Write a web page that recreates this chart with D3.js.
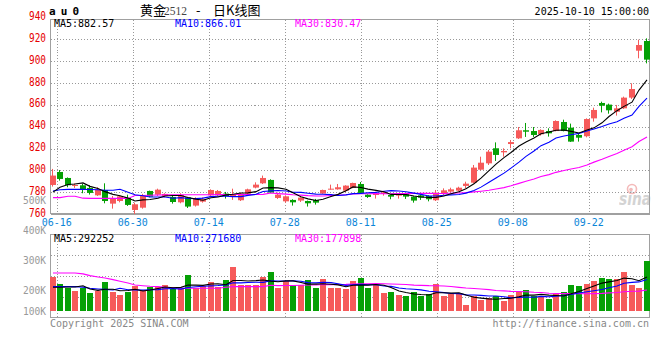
<!DOCTYPE html>
<html><head><meta charset="utf-8">
<script src="https://cdn.jsdelivr.net/npm/d3@7"></script>
<style>body{margin:0;background:#fff}svg{display:block}</style>
</head><body>
<svg id="c" width="660" height="360"></svg>
<script>
// ---------- data ----------
const dates = ["06-13","06-16","06-17","06-18","06-19","06-20","06-23","06-24","06-25","06-26","06-27",
"06-30","07-01","07-02","07-03","07-04","07-07","07-08","07-09","07-10","07-11",
"07-14","07-15","07-16","07-17","07-18","07-21","07-22","07-23","07-24","07-25",
"07-28","07-29","07-30","07-31","08-01","08-04","08-05","08-06","08-07","08-08",
"08-11","08-12","08-13","08-14","08-15","08-18","08-19","08-20","08-21","08-22",
"08-25","08-26","08-27","08-28","08-29","09-01","09-02","09-03","09-04","09-05",
"09-08","09-09","09-10","09-11","09-12","09-15","09-16","09-17","09-18","09-19",
"09-22","09-23","09-24","09-25","09-26","09-29","09-30","10-09","10-10"];
const open  = [786.6,798.5,793.0,786.0,786.3,783.9,777.1,782.0,769.5,771.9,774.7,763.7,765.8,781.1,777.7,776.5,775.6,770.7,775.3,767.7,
771.3,777.1,777.1,778.7,776.2,772.6,778.7,784.2,788.1,791.2,774.7,771.6,772.9,772.3,771.9,772.9,778.7,782.6,782.6,781.4,
783.9,787.5,777.7,777.4,778.4,777.4,776.8,778.1,775.9,777.1,776.5,772.6,778.6,780.5,781.4,785.7,788.7,800.6,806.4,820.2,
816.5,824.1,829.3,836.7,836.0,833.0,836.0,836.0,844.3,839.1,832.4,831.2,847.6,861.7,860.2,853.7,856.8,866.6,909.6,918.5];
const high  = [801.3,800.3,793.5,788.1,787.5,786.3,784.5,788.1,776.5,777.1,777.7,770.4,778.4,781.4,783.2,779.0,777.1,779.0,775.6,775.3,
775.3,782.6,782.0,780.2,783.2,779.6,783.2,789.0,795.2,791.8,779.6,777.1,773.5,775.3,772.3,773.8,782.3,786.9,787.5,786.3,
788.7,789.3,778.1,780.5,781.1,777.7,779.0,778.4,776.2,777.7,777.1,782.0,783.5,784.1,785.0,789.6,804.9,812.5,818.6,825.6,
820.2,827.8,839.7,843.4,839.7,837.6,838.5,845.8,846.4,842.8,834.2,847.6,857.4,862.9,861.1,859.9,867.5,879.7,919.7,920.9];
const low   = [785.1,790.6,784.5,783.9,779.0,777.8,776.5,769.8,764.9,770.7,767.4,760.0,764.9,775.3,776.5,775.3,769.5,769.8,765.5,766.8,
770.4,776.2,775.9,774.1,772.9,771.9,778.1,783.5,787.5,779.3,773.8,770.4,767.7,771.0,766.8,768.6,778.4,782.3,782.3,779.9,
783.6,778.7,774.7,774.1,776.8,773.5,774.1,773.8,770.4,772.9,771.6,771.9,777.4,779.6,780.5,783.5,788.1,800.0,804.9,808.6,
812.5,820.2,828.7,830.6,830.6,831.8,830.9,835.7,835.7,826.0,826.3,830.2,844.6,853.1,851.9,850.1,856.2,865.4,902.6,898.0];
const close = [795.2,792.1,786.3,786.6,782.3,779.3,782.3,771.9,774.1,776.2,768.3,768.9,777.1,775.9,782.3,778.4,771.0,777.4,766.8,774.4,
773.5,782.0,781.1,776.5,777.7,778.7,782.6,786.9,793.0,779.6,777.7,776.2,770.7,775.0,769.8,770.4,782.0,783.2,784.5,786.0,
788.4,779.3,775.6,779.0,779.9,775.9,778.7,775.9,772.3,775.0,773.5,779.6,781.7,782.6,784.1,787.8,802.5,807.0,817.1,814.1,
817.7,825.9,836.7,835.4,832.4,837.0,833.9,845.2,836.0,826.3,829.9,847.0,855.3,859.2,855.0,856.8,866.6,874.5,914.8,901.4];
const volume = [289000,229000,197000,169000,197000,152000,169000,246000,166000,134000,166000,217000,177000,203000,203000,226000,186000,195000,306000,195000,
217000,246000,203000,263000,378000,220000,220000,220000,289000,332000,195000,255000,220000,220000,263000,195000,272000,195000,195000,186000,
255000,280000,195000,220000,152000,160000,134000,126000,160000,126000,143000,229000,126000,143000,143000,49000,126000,92000,109000,126000,
83000,134000,160000,177000,126000,117000,100000,143000,160000,220000,212000,229000,255000,280000,272000,272000,332000,226000,195000,429000];
// moving-average values before enough history exists
const ma5Head  = [780.0,784.5,787.0,787.5];
const ma10Head = [781.0,782.2,782.6,782.6,782.6,782.4,782.2,781.8,781.8];
const ma30Head = [775.0,775.0,776.3,776.3,774.5,774.3,774.3,774.3,774.3,774.3,774.3,777.0,777.0,777.2,777.4,777.5,777.6,777.7,777.7,777.7,
777.7,777.7,777.8,777.8,777.8,777.8,777.8,777.9,778.0];
const vma5Head  = [203000,203000,206000,206000];
const vma10Head = [209000,209000,209000,209000,205000,195000,189000,185000,180000];
const vma30Head = [326000,326000,326000,326000,318000,303000,292000,283000,269000,255000,240000,223000,217000,212000,209000,203000,200000,195000,195000,195000,
195000,195000,195000,203000,209000,209000,209000,209000,209000];
const priceTicks = [940,920,900,880,860,840,820,800,780,760];
const dateTicks = ["06-16","06-30","07-14","07-28","08-11","08-25","09-08","09-22"];
const volTicks = [500000,400000,300000,200000,100000];
const priceMALabels = ["MA5:882.57","MA10:866.01","MA30:830.47"];
const volMALabels = ["MA5:292252","MA10:271680","MA30:177898"];
const maColors = ["#000000","#0000ff","#ff00ff"];

// ---------- drawing ----------
const svg = d3.select("#c");
const MONO = "'DejaVu Sans Mono', 'Liberation Mono', monospace";
const UP = "#f65a5a", DOWN = "#05a005", GRID = "#999", AXIS = "#a0a0a0";
const idx = d3.range(dates.length);

const x = d3.scaleBand().domain(idx).range([49.7, 649.7]).paddingInner(0.2).paddingOuter(0).align(0);
const bw = Math.round(x.bandwidth());
const left = i => Math.round(x(i));
const cx = i => left(i) + 3;
const priceY = d3.scaleLinear().domain([760, 940]).range([214, 17.5]);
const volY = d3.scaleLinear().domain([0, 655000]).range([311, 234.6]);
const volGrid = d3.scaleLinear().domain([0, 4]).range([234.5, 317.5]);
const volLabelY = d3.scaleLinear().domain([200000, 500000]).range([290.3, 200]);
const gridX = d3.scaleLinear()
  .domain([dates.indexOf(dateTicks[0]), dates.indexOf(dateTicks[dateTicks.length-1])])
  .range([57.3, 589.3]);

const P = {l:50.5, r:649.5, t:19.5, b:213.5};
const V = {t:234.5, b:317.5};

function movingAvg(vals, n, head) {
  return vals.map((v, i) => i < n - 1 ? head[i] : d3.mean(vals.slice(i - n + 1, i + 1)));
}

// watermark
const wm = svg.append("g").attr("opacity", 0.9);
wm.append("text").attr("x", 619).attr("y", 205).attr("font-family", "'DejaVu Sans', sans-serif")
  .attr("font-size", 17).attr("font-style", "italic").attr("font-weight", "bold")
  .attr("fill", "#cfcfcf").attr("textLength", 32).attr("lengthAdjust", "spacingAndGlyphs").text("sina");
wm.append("circle").attr("cx", 632).attr("cy", 189).attr("r", 4.5).attr("fill", "none")
  .attr("stroke", "#f3b3b3").attr("stroke-width", 1.6);
wm.append("circle").attr("cx", 631).attr("cy", 189.5).attr("r", 1.8).attr("fill", "#f3b3b3");

// gridlines
const grid = svg.append("g").attr("stroke", GRID).attr("stroke-dasharray", "1,2").attr("shape-rendering", "crispEdges");
priceTicks.filter(v => v > 760 && v < 940).forEach(v => {
  const yy = Math.round(priceY(v)) + 0.5;
  grid.append("line").attr("x1", P.l).attr("x2", P.r).attr("y1", yy).attr("y2", yy);
});
[1, 2, 3].forEach(k => {
  const yy = Math.round(volGrid(k)) + 0.5;
  grid.append("line").attr("x1", P.l).attr("x2", P.r).attr("y1", yy).attr("y2", yy);
});
dateTicks.forEach(d => {
  const xx = Math.round(gridX(dates.indexOf(d))) + 0.5;
  grid.append("line").attr("x1", xx).attr("x2", xx).attr("y1", P.t).attr("y2", P.b);
  grid.append("line").attr("x1", xx).attr("x2", xx).attr("y1", V.t).attr("y2", V.b);
});

// panel borders
const bord = svg.append("g").attr("stroke", AXIS).attr("fill", "none").attr("shape-rendering", "crispEdges");
bord.append("rect").attr("x", P.l).attr("y", P.t).attr("width", P.r - P.l).attr("height", P.b - P.t);
bord.append("rect").attr("x", P.l).attr("y", V.t).attr("width", P.r - P.l).attr("height", V.b - V.t);
bord.append("line").attr("x1", P.l).attr("x2", P.r).attr("y1", P.b + 0.6).attr("y2", P.b + 0.6);

// candles
const cg = svg.append("g");
idx.forEach(i => {
  const o = open[i], c = close[i], up = c >= o, col = up ? UP : DOWN;
  cg.append("line").attr("x1", left(i) + 2.5).attr("x2", left(i) + 2.5)
    .attr("y1", priceY(high[i])).attr("y2", priceY(low[i])).attr("stroke", col).attr("stroke-width", 1);
  const y0 = priceY(Math.max(o, c)), y1 = priceY(Math.min(o, c));
  cg.append("rect").attr("x", left(i)).attr("width", bw)
    .attr("y", y0).attr("height", Math.max(1, y1 - y0)).attr("fill", col);
});

// price MAs
const ma5 = movingAvg(close, 5, ma5Head), ma10 = movingAvg(close, 10, ma10Head), ma30 = movingAvg(close, 30, ma30Head);
const pLine = d3.line().x((d, i) => cx(i)).y(d => priceY(d));
[ma30, ma10, ma5].forEach((s, k) => {
  svg.append("path").attr("d", pLine(s)).attr("fill", "none")
    .attr("stroke", maColors[2 - k]).attr("stroke-width", 1.1);
});

// volume bars
const vg = svg.append("g").attr("shape-rendering", "crispEdges");
idx.forEach(i => {
  vg.append("rect").attr("x", left(i)).attr("width", bw)
    .attr("y", volY(volume[i])).attr("height", volY(0) - volY(volume[i]))
    .attr("fill", close[i] >= open[i] ? UP : DOWN);
});
const vm5 = movingAvg(volume, 5, vma5Head), vm10 = movingAvg(volume, 10, vma10Head), vm30 = movingAvg(volume, 30, vma30Head);
const vLine = d3.line().x((d, i) => cx(i)).y(d => volY(d));
[vm30, vm10, vm5].forEach((s, k) => {
  svg.append("path").attr("d", vLine(s)).attr("fill", "none")
    .attr("stroke", maColors[2 - k]).attr("stroke-width", 1.1);
});

// legend strips
const legX = [54, 175, 295];
priceMALabels.forEach((t, k) => {
  svg.append("text").attr("x", legX[k]).attr("y", 27).attr("font-family", MONO).attr("font-size", 10)
    .attr("fill", maColors[k]).text(t);
});
volMALabels.forEach((t, k) => {
  svg.append("text").attr("x", legX[k]).attr("y", 242).attr("font-family", MONO).attr("font-size", 10)
    .attr("fill", maColors[k]).text(t);
});

// volume axis labels (gray)
volTicks.forEach(v => {
  const yy = Math.min(volLabelY(v), volY(0)) + 4;
  const t = (v / 1000) + "K";
  svg.append("text").attr("x", 46).attr("y", yy).attr("text-anchor", "end")
    .attr("font-family", MONO).attr("font-size", 10).attr("fill", "#999")
    .attr("textLength", 23).attr("lengthAdjust", "spacingAndGlyphs").text(t);
});

// price axis labels (red)
priceTicks.forEach(v => {
  svg.append("text").attr("x", 46).attr("y", priceY(v) + 2.5).attr("text-anchor", "end")
    .attr("font-family", MONO).attr("font-size", 12).attr("fill", "#e60000")
    .attr("textLength", 17).attr("lengthAdjust", "spacingAndGlyphs").text(v);
});

// date labels
dateTicks.forEach(d => {
  svg.append("text").attr("x", gridX(dates.indexOf(d)) - 0.5).attr("y", 225.5).attr("text-anchor", "middle")
    .attr("font-family", MONO).attr("font-size", 10).attr("fill", "#0b86d8").text(d);
});

// header
svg.append("text").attr("x", 49).attr("y", 15).attr("font-family", MONO).attr("font-size", 11)
  .attr("font-weight", "bold").attr("fill", "#000").attr("textLength", 30).attr("lengthAdjust", "spacing").text("a u 0");
const title = svg.append("text").attr("y", 15).attr("font-family", "'Noto Sans CJK SC', sans-serif").attr("font-size", 13).attr("fill", "#000");
title.append("tspan").attr("x", 140).text("黄金");
title.append("tspan").attr("x", 164).attr("font-family", "'Liberation Serif', serif").attr("font-size", 11.5).attr("fill", "#444").text("2512");
title.append("tspan").attr("x", 196).text("-");
title.append("tspan").attr("x", 213).text("日K线图");
svg.append("text").attr("x", 649).attr("y", 15).attr("text-anchor", "end").attr("font-family", MONO)
  .attr("font-size", 10).attr("fill", "#000").text("2025-10-10 15:00:00");

// footer
svg.append("text").attr("x", 50).attr("y", 327).attr("font-family", MONO).attr("font-size", 10)
  .attr("fill", "#888").text("Copyright 2025 SINA.COM");
svg.append("text").attr("x", 649).attr("y", 327).attr("text-anchor", "end").attr("font-family", MONO)
  .attr("font-size", 10).attr("fill", "#888").text("http://finance.sina.com.cn");
</script>
</body></html>
